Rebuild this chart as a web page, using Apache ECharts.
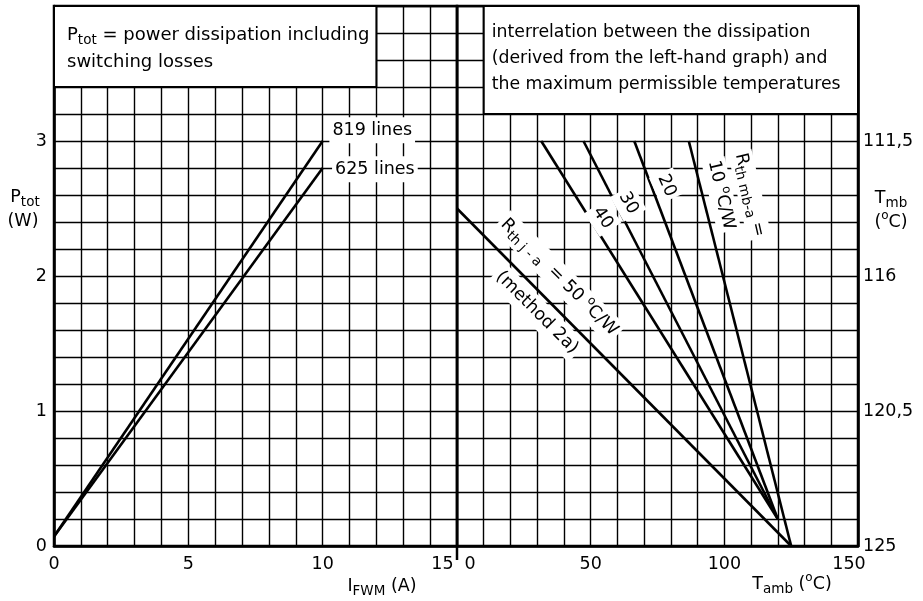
<!DOCTYPE html>
<html><head><meta charset="utf-8">
<script src="https://cdn.jsdelivr.net/npm/echarts@6/dist/echarts.min.js"></script>
<style>html,body{margin:0;padding:0;background:#fff;}#c{width:923px;height:601px;}</style>
</head><body><div id="c"></div>
<script>
// ---- data ----
const line819 = [[0, 0.07], [10, 3]];
const line625 = [[0, 0.07], [10, 2.8]];
const rthja50 = [[0, 2.5], [125, 0]];
const rthmb40 = [[31.5, 3], [120, 0.2]];
const rthmb30 = [[47.3, 3], [120, 0.2]];
const rthmb20 = [[66.3, 3], [120, 0.2]];
const rthmb10 = [[86.7, 3], [125, 0]];
const leftXTicks = [0, 5, 10, 15];
const leftYTicks = [0, 1, 2, 3];
const rightXTicks = [0, 50, 100, 150];
const tmbTickValues = [0, 1, 2, 3];
const tmbTickLabels = ['125', '120,5', '116', '111,5'];

const FONT = 'DejaVu Sans';
const chart = echarts.init(document.getElementById('c'));
const isInt = v => Math.abs(v - Math.round(v)) < 1e-6;
const gridLine = {show: true, lineStyle: {color: '#000', width: 1.4}};
const axisLineStyle = {show: true, onZero: false, lineStyle: {color: '#000', width: 2.5}};
const baseRich = {
  n: {fontSize: 17.5, fontFamily: FONT, color: '#000'},
  l: {fontSize: 17.5, fontFamily: FONT, color: '#000', padding: [0, 0, 0, 26]},
  r: {fontSize: 17.5, fontFamily: FONT, color: '#000', padding: [0, 29, 0, 0]},
  r2: {fontSize: 17.5, fontFamily: FONT, color: '#000', padding: [0, 18, 0, 0]}
};
const lineStyle = {color: '#000', width: 2.6};
const boxStyle = {color: '#fff', borderColor: '#000', borderWidth: 2};

function lineSeries(data, gi, extra) {
  return Object.assign({
    type: 'line', xAxisIndex: gi, yAxisIndex: gi, data: data,
    symbol: 'none', lineStyle: lineStyle, silent: true, z: 3
  }, extra || {});
}

const option = {
  animation: false,
  backgroundColor: '#fff',
  grid: [
    {left: 54, top: 6, width: 403, height: 540, show: true, borderColor: '#000', borderWidth: 2.5, backgroundColor: 'transparent'},
    {left: 457, top: 6, width: 401, height: 540, show: true, borderColor: '#000', borderWidth: 2.5, backgroundColor: 'transparent'}
  ],
  xAxis: [
    {gridIndex: 0, type: 'value', min: 0, max: 15, interval: 1,
      axisLine: axisLineStyle, axisTick: {show: false}, splitLine: gridLine,
      axisLabel: {margin: 9, showMinLabel: true, showMaxLabel: true, hideOverlap: false,
        formatter: v => {
          const r = Math.round(v);
          if (!isInt(v) || leftXTicks.indexOf(r) < 0) return '';
          return r === 15 ? '{r|15}' : '{n|' + r + '}';
        }, rich: baseRich}},
    {gridIndex: 1, type: 'value', min: 0, max: 150, interval: 10,
      axisLine: axisLineStyle, axisTick: {show: false}, splitLine: gridLine,
      axisLabel: {margin: 9, showMinLabel: true, showMaxLabel: true, hideOverlap: false,
        formatter: v => {
          const r = Math.round(v);
          if (!isInt(v) || rightXTicks.indexOf(r) < 0) return '';
          if (r === 0) return '{l|0}';
          if (r === 150) return '{r2|150}';
          return '{n|' + r + '}';
        }, rich: baseRich}}
  ],
  yAxis: [
    {gridIndex: 0, type: 'value', min: 0, max: 4, interval: 0.2, position: 'left',
      axisLine: axisLineStyle, axisTick: {show: false}, splitLine: gridLine,
      axisLabel: {margin: 7, showMinLabel: true, hideOverlap: false,
        formatter: v => {
          const r = Math.round(v);
          if (!isInt(v) || leftYTicks.indexOf(r) < 0) return '';
          return '{n|' + r + '}';
        }, rich: baseRich}},
    {gridIndex: 1, type: 'value', min: 0, max: 4, interval: 0.2, position: 'right',
      axisLine: axisLineStyle, axisTick: {show: false}, splitLine: gridLine,
      axisLabel: {margin: 5, showMinLabel: true, hideOverlap: false,
        formatter: v => {
          const r = Math.round(v);
          const i = tmbTickValues.indexOf(r);
          if (!isInt(v) || i < 0) return '';
          return '{n|' + tmbTickLabels[i] + '}';
        }, rich: baseRich}}
  ],
  series: [
    lineSeries(line819, 0, {markArea: {silent: true, itemStyle: boxStyle, label: {show: false},
      data: [[{coord: [0, 3.4]}, {coord: [12, 4]}]]}}),
    lineSeries(line625, 0),
    lineSeries(rthja50, 1, {markArea: {silent: true, itemStyle: boxStyle, label: {show: false},
      data: [[{coord: [10, 3.2]}, {coord: [150, 4]}]]}}),
    lineSeries(rthmb40, 1),
    lineSeries(rthmb30, 1),
    lineSeries(rthmb20, 1),
    lineSeries(rthmb10, 1)
  ]
};
chart.setOption(option);

// ---- annotations (text placed via the chart's own coordinate conversion) ----
const P = (g, x, y) => chart.convertToPixel({gridIndex: g}, [x, y]);
const rich = {
  n: {fontSize: 17.5, fontFamily: FONT, color: '#000', lineHeight: 24},
  a: {fontSize: 18, fontFamily: FONT, color: '#000', lineHeight: 24},
  b: {fontSize: 17.3, fontFamily: FONT, color: '#000', lineHeight: 24},
  s: {fontSize: 13.5, fontFamily: FONT, color: '#000', lineHeight: 12, verticalAlign: 'bottom'},
  sup: {fontSize: 12, fontFamily: FONT, color: '#000', lineHeight: 12, verticalAlign: 'top'}
};
function txt(x, y, text, opts) {
  opts = opts || {};
  return {
    type: 'text', x: x, y: y, z: 20, rotation: (opts.rot || 0) * Math.PI / 180,
    style: Object.assign({
      text: text, rich: rich, fill: '#000', font: '17px ' + FONT,
      align: opts.align || 'center', verticalAlign: 'middle'
    }, opts.bg ? {backgroundColor: '#fff', padding: opts.pad || [1, 3]} : {})
  };
}
const g = [];
const bl = P(0, 0, 4);
g.push(txt(bl[0] + 13, 35, '{a|P}{s|tot}{a| = power dissipation including}', {align: 'left'}));
g.push(txt(bl[0] + 13, 62, '{a|switching losses}', {align: 'left'}));
const br = P(1, 10, 4);
g.push(txt(br[0] + 8, 33, '{b|interrelation between the dissipation}', {align: 'left'}));
g.push(txt(br[0] + 8, 59, '{b|(derived from the left-hand graph) and}', {align: 'left'}));
g.push(txt(br[0] + 8, 85, '{b|the maximum permissible temperatures}', {align: 'left'}));

// line labels
let p = P(0, 10.25, 3.08); g.push(txt(p[0], p[1], '{n|819 lines}', {align: 'left', bg: true}));
p = P(0, 10.35, 2.79); g.push(txt(p[0], p[1], '{n|625 lines}', {align: 'left', bg: true}));
p = P(1, 109.5, 2.6); g.push(txt(p[0], p[1], '{n|R}{s|th mb-a}{n| =}', {rot: -77, bg: true, pad: [0, 2]}));
p = P(1, 98.8, 2.6); g.push(txt(p[0], p[1], '{n|10 }{sup|o}{n|C/W}', {rot: -77, bg: true, pad: [0, 2]}));
p = P(1, 78.4, 2.67); g.push(txt(p[0], p[1], '{n|20}', {rot: -66, bg: true}));
p = P(1, 64.1, 2.54); g.push(txt(p[0], p[1], '{n|30}', {rot: -61, bg: true}));
p = P(1, 54.5, 2.43); g.push(txt(p[0], p[1], '{n|40}', {rot: -56, bg: true}));
p = P(1, 38.2, 1.99); g.push(txt(p[0], p[1], '{n|R}{s|th j - a}{n|  = 50 }{sup|o}{n|C/W}', {rot: -45, bg: true}));
p = P(1, 29.9, 1.73); g.push(txt(p[0], p[1], '{n|(method 2a)}', {rot: -45, bg: true}));

// axis titles
g.push(txt(25, 197, '{n|P}{s|tot}'));
g.push(txt(23, 221, '{n|(W)}'));
g.push(txt(891, 198, '{n|T}{s|mb}'));
g.push(txt(891, 222, '{n|(}{sup|o}{n|C)}'));
g.push(txt(382, 586, '{n|I}{s|FWM}{n| (A)}'));
g.push(txt(792, 584, '{n|T}{s|amb}{n| (}{sup|o}{n|C)}'));

// divider extension below the axes
const d0 = P(0, 15, 0);
g.push({type: 'line', z: 20, shape: {x1: d0[0], y1: d0[1], x2: d0[0], y2: d0[1] + 14},
  style: {stroke: '#000', lineWidth: 2.5}});

chart.setOption({graphic: {elements: g}});
</script>
</body></html>
